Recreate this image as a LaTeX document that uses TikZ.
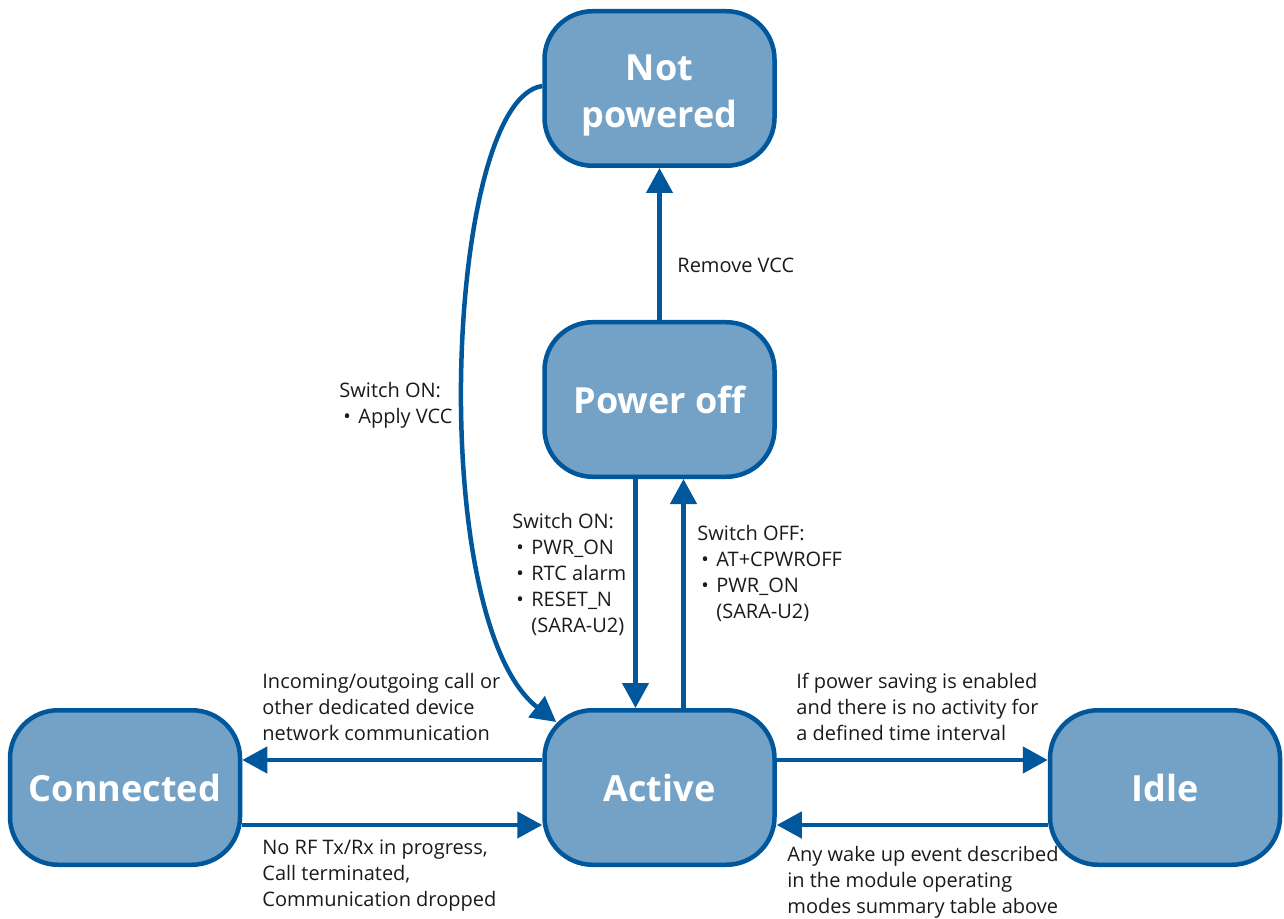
\documentclass[tikz,border=0pt]{standalone}
\usepackage{fontspec}
\setmainfont{Open Sans}
\usepackage{tikz}
\usetikzlibrary{arrows.meta,positioning}
\definecolor{modeblue}{RGB}{0,87,155}
\definecolor{modefill}{RGB}{115,162,198}
\definecolor{modetext}{RGB}{26,26,26}
\newcommand{\itm}{\makebox[9.5pt][l]{\hspace{2pt}\textbullet}}
\newcommand{\ind}{\hspace*{9.5pt}}

\begin{document}
\begin{tikzpicture}[x=0.5pt, y=-0.5pt, node distance = 114.5pt,
        mode/.style = {rectangle, rounded corners=24pt, draw=modeblue, fill=modefill,
            line width=2.25pt, minimum width=115pt, minimum height=77.25pt, inner sep=0pt,
            text=white, align=center, font=\fontsize{18}{23.5}\selectfont\bfseries},
        trans/.style = {draw=modeblue, line width=2.25pt, -{Triangle[length=12.5pt,width=13pt]}},
        lbl/.style = {anchor=west, inner sep=0pt, align=left, text=modetext,
            font=\fontsize{10}{13}\selectfont}]
            \useasboundingbox (0,0) rectangle (1284,919);
            \node [mode] (active) at (659.5,787.5) {Active};
            \node [mode, above=of active] (poweroff) {Power off};
            \node [mode, above=76pt of poweroff] (notpowered) {\rule{0pt}{19.5pt}Not\\powered};
            \node [mode, left=150pt of active] (connected) {Connected};
            \node [mode, right=135.5pt of active] (idle) {Idle};

            \draw [trans] (poweroff) -- (notpowered);
            \draw [trans] ([xshift=-12pt]poweroff.south) -- ([xshift=-12pt]active.north);
            \draw [trans] ([xshift=12pt]active.north) -- ([xshift=12pt]poweroff.south);
            \draw [trans] ([yshift=1.25pt]notpowered.west) .. controls (445,100) and (425,620) .. ([xshift=7pt,yshift=-7pt]active.north west);
            \draw [trans] ([yshift=13.75pt]active.west) -- ([yshift=13.75pt]connected.east);
            \draw [trans] ([yshift=-18.75pt]connected.east) -- ([yshift=-18.75pt]active.west);
            \draw [trans] ([yshift=13.75pt]active.east) -- ([yshift=13.75pt]idle.west);
            \draw [trans] ([yshift=-18.75pt]idle.west) -- ([yshift=-18.75pt]active.east);

            \node [lbl] (lremove) at (677,265) {Remove VCC};
            \node [lbl] (lapply) at (339,405) {Switch ON:\\\itm Apply VCC};
            \node [lbl] (lswon) at (512,574) {Switch ON:\\\itm PWR\_ON\\\itm RTC alarm\\\itm RESET\_N\\\ind(SARA-U2)};
            \node [lbl] (lswoff) at (697,573) {Switch OFF:\\\itm AT+CPWROFF\\\itm PWR\_ON\\\ind(SARA-U2)};
            \node [lbl] (lcall) at (262,707) {Incoming/outgoing call or\\other dedicated device\\network communication};
            \node [lbl] (lnorf) at (262,876) {No RF Tx/Rx in progress,\\Call terminated,\\Communication dropped};
            \node [lbl] (lsave) at (796,707) {If power saving is enabled\\and there is no activity for\\a defined time interval};
            \node [lbl] (lwake) at (787,882) {Any wake up event described\\in the module operating\\modes summary table above};
        \end{tikzpicture}
\end{document}
